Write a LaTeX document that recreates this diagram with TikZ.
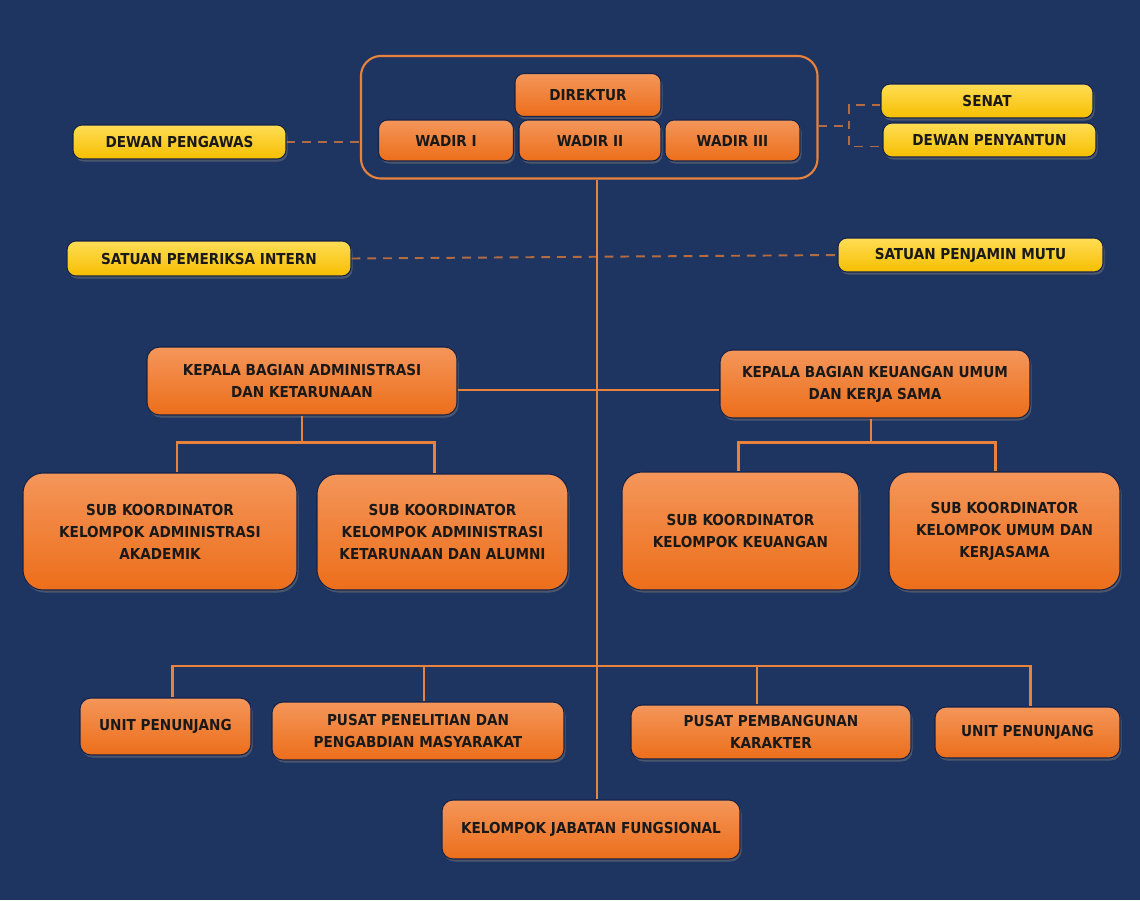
\documentclass[tikz,border=0pt]{standalone}
\usepackage{fontspec}
\newfontfamily\boxfont{DejaVu Sans Condensed Bold}
\definecolor{navy}{HTML}{1F3561}
\definecolor{orangetop}{HTML}{F4965A}
\definecolor{orangebot}{HTML}{EC6E1A}
\definecolor{goldtop}{HTML}{FFDD55}
\definecolor{goldbot}{HTML}{F6BE00}
\definecolor{wire}{HTML}{E8823C}
\definecolor{dashwire}{HTML}{B46B40}
\definecolor{rim}{HTML}{13234A}
\usetikzlibrary{positioning,fit,shadows}

\tikzset{
  unit/.style={rounded corners=0.18cm, draw=rim, line width=0.6pt,
    top color=orangetop, bottom color=orangebot, text=black!90,
    font=\boxfont\fontsize{8.6}{12.5}\selectfont, align=center, inner sep=0pt,
    drop shadow={opacity=0.45, shadow xshift=0.03cm, shadow yshift=-0.05cm}},
  council/.style={unit, top color=goldtop, bottom color=goldbot},
  bigunit/.style={unit, rounded corners=0.4cm},
  link/.style={draw=wire, line width=1.3pt},
  dotlink/.style={draw=dashwire, line width=1.1pt, dash pattern=on 5pt off 4pt},
}

\begin{document}
\begin{tikzpicture}
    \fill[navy] (0,0) rectangle (22.8,-18);
    \useasboundingbox (0,0) rectangle (22.8,-18);

    % pimpinan
    \node[unit, minimum width=2.92cm, minimum height=0.86cm] (direktur) at (11.76,-1.90) {DIREKTUR};
    \node[unit, minimum width=2.70cm, minimum height=0.82cm] (wadirA) at (8.92,-2.81) {WADIR I};
    \node[unit, minimum width=2.84cm, minimum height=0.82cm] (wadirB) at (11.80,-2.81) {WADIR II};
    \node[unit, minimum width=2.70cm, minimum height=0.82cm] (wadirC) at (14.65,-2.81) {WADIR III};
    \node[draw=wire, line width=1.2pt, rounded corners=0.4cm, inner sep=0.34cm,
          fit=(direktur)(wadirA)(wadirC)] (pimpinan) {};

    \node[council, minimum width=4.26cm, minimum height=0.68cm] (pengawas) at (3.59,-2.84) {DEWAN PENGAWAS};
    \node[council, minimum width=4.24cm, minimum height=0.68cm] (senat) at (19.74,-2.02) {SENAT};
    \node[council, minimum width=4.26cm, minimum height=0.68cm] (penyantun) at (19.79,-2.80) {DEWAN PENYANTUN};
    \node[council, minimum width=5.68cm, minimum height=0.70cm] (spi) at (4.18,-5.17) {SATUAN PEMERIKSA INTERN};
    \node[council, minimum width=5.30cm, minimum height=0.68cm] (spm) at (19.41,-5.10) {SATUAN PENJAMIN MUTU};

    % bagian
    \node[unit, rounded corners=0.25cm, minimum width=6.20cm, minimum height=1.36cm] (kabagAdm) at (6.04,-7.62)
        {KEPALA BAGIAN ADMINISTRASI\\DAN KETARUNAAN};
    \node[unit, rounded corners=0.25cm, minimum width=6.20cm, minimum height=1.36cm] (kabagKeu) at (17.50,-7.68)
        {KEPALA BAGIAN KEUANGAN UMUM\\DAN KERJA SAMA};

    \node[bigunit, minimum width=5.48cm, minimum height=2.34cm] (subAkd) at (3.20,-10.63)
        {SUB KOORDINATOR\\KELOMPOK ADMINISTRASI\\AKADEMIK};
    \node[bigunit, minimum width=5.02cm, minimum height=2.32cm] (subTar) at (8.85,-10.64)
        {SUB KOORDINATOR\\KELOMPOK ADMINISTRASI\\KETARUNAAN DAN ALUMNI};
    \node[bigunit, minimum width=4.74cm, minimum height=2.36cm] (subKeu) at (14.81,-10.62)
        {SUB KOORDINATOR\\KELOMPOK KEUANGAN};
    \node[bigunit, minimum width=4.62cm, minimum height=2.36cm] (subUmum) at (20.09,-10.62)
        {SUB KOORDINATOR\\KELOMPOK UMUM DAN\\KERJASAMA};

    % unit dan pusat
    \node[unit, rounded corners=0.22cm, minimum width=3.42cm, minimum height=1.14cm] (unitA) at (3.31,-14.53) {UNIT PENUNJANG};
    \node[unit, rounded corners=0.22cm, minimum width=5.84cm, minimum height=1.16cm] (pusatLit) at (8.36,-14.62)
        {PUSAT PENELITIAN DAN\\PENGABDIAN MASYARAKAT};
    \node[unit, rounded corners=0.22cm, minimum width=5.60cm, minimum height=1.08cm] (pusatKar) at (15.42,-14.64)
        {PUSAT PEMBANGUNAN\\KARAKTER};
    \node[unit, rounded corners=0.22cm, minimum width=3.70cm, minimum height=1.02cm] (unitB) at (20.55,-14.65) {UNIT PENUNJANG};
    \node[unit, rounded corners=0.22cm, minimum width=5.96cm, minimum height=1.18cm] (jabatan) at (11.82,-16.59)
        {KELOMPOK JABATAN FUNGSIONAL};

    \coordinate (bus) at (11.94,-13.32);

    % garis koordinasi
    \draw[dotlink] (pengawas.east) -- (pengawas.east -| pimpinan.west);
    \draw[dotlink] ([yshift=-0.18cm]pimpinan.east) -- ++(0.6,0) coordinate (split);
    \draw[dotlink] ([yshift=-0.08cm]senat.west) -| (split) |- ([yshift=-0.13cm]penyantun.west);
    \draw[dotlink] (spi.east) -- (spm.west);

    % garis komando
    \draw[link] (bus |- pimpinan.south) -- (bus |- jabatan.north);
    \draw[link] ([yshift=-0.18cm]kabagAdm.east) -- ([yshift=-0.18cm]kabagAdm.east -| kabagKeu.west);
    \draw[link] (kabagAdm.south) -- ++(0,-0.54) coordinate (forkAdm);
    \draw[link] ([xshift=0.34cm]subAkd.north) |- (forkAdm) -| ([xshift=-0.16cm]subTar.north);
    \draw[link] ([xshift=-0.08cm]kabagKeu.south) -- ++(0,-0.48) coordinate (forkKeu);
    \draw[link] ([xshift=-0.04cm]subKeu.north) |- (forkKeu) -| ([xshift=-0.18cm]subUmum.north);
    \draw[link] ([xshift=0.14cm]unitA.north) |- (bus) -| ([xshift=0.06cm]unitB.north);
    \draw[link] ([xshift=0.12cm]pusatLit.north) -- ([xshift=0.12cm]pusatLit.north |- bus);
    \draw[link] ([xshift=-0.28cm]pusatKar.north) -- ([xshift=-0.28cm]pusatKar.north |- bus);
\end{tikzpicture}
\end{document}
